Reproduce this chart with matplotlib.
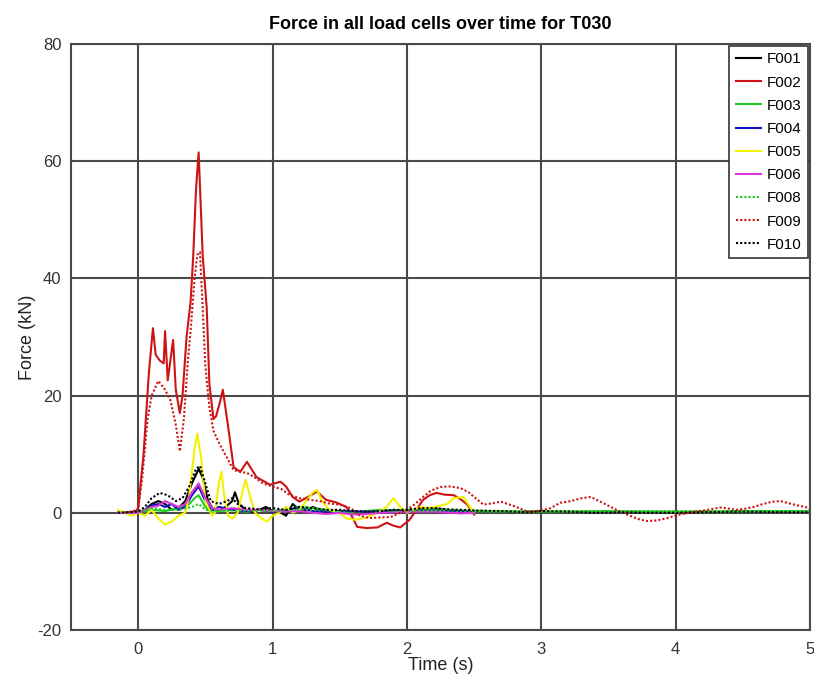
import matplotlib
matplotlib.use("Agg")
import matplotlib.pyplot as plt
import numpy as np

plt.rcParams['font.family'] = ['Liberation Sans', 'DejaVu Sans']
plt.rcParams['axes.unicode_minus'] = False

# ---- data: (time s, force kN) ----
F001 = [(-0.15,0),(0,0),(0.05,0.5),(0.1,1.5),(0.15,2),(0.2,1.5),(0.25,0.5),(0.3,0.8),(0.35,2),(0.4,5),
        (0.45,7.5),(0.48,6),(0.52,2),(0.56,0.5),(0.6,0.3),(0.65,1),(0.7,2),(0.72,3.5),(0.75,1.5),(0.8,0.5),
        (0.85,0.2),(0.9,0.5),(0.95,1),(1.0,0.3),(1.05,0.2),(1.1,-0.5),(1.15,1.5),(1.2,0.5),(1.25,0.3),(1.3,1),
        (1.35,0.5),(1.4,0),(1.5,0.3),(1.6,0.2),(1.7,0),(1.8,0.3),(1.9,0.5),(2.0,0.2),(2.1,0.6),(2.2,0.8),
        (2.3,0.5),(2.4,0.3),(2.5,0.2)]
F002 = [(-0.1,0),(-0.02,0.2),(0.0,0.8),(0.04,10),(0.08,24),(0.11,31.5),(0.13,27),(0.16,26),(0.19,25.5),(0.2,31),
        (0.22,22.6),(0.26,29.5),(0.28,21),(0.31,17),(0.33,20),(0.36,30),(0.39,36),(0.41,44),(0.43,55),(0.45,61.5),
        (0.48,44),(0.51,35),(0.53,22),(0.56,16),(0.58,16.5),(0.61,19),(0.63,21),(0.67,14.6),(0.71,7.8),(0.76,7),
        (0.81,8.7),(0.88,6.1),(0.98,4.8),(1.06,5.3),(1.1,4.5),(1.15,2.7),(1.2,1.9),(1.27,2.8),(1.33,3.6),(1.4,2.2),
        (1.47,1.8),(1.55,1.0),(1.6,-1.0),(1.63,-2.4),(1.7,-2.6),(1.78,-2.5),(1.85,-1.7),(1.9,-2.2),(1.95,-2.5),(2.02,-1.2),
        (2.07,0.5),(2.12,2.2),(2.17,3.0),(2.22,3.4),(2.28,3.1),(2.35,3.0),(2.4,2.3),(2.45,1.4),(2.5,-0.3)]
F003 = [(-0.15,0),(0,0),(0.1,0.5),(0.2,0.3),(0.3,0.8),(0.38,1.5),(0.42,2.5),(0.45,3),(0.5,1),(0.55,0),
        (0.6,0.3),(0.7,0.5),(0.8,0.2),(0.9,0.5),(1.0,0.3),(1.1,0.5),(1.2,1),(1.3,0.8),(1.4,0.5),(1.5,0.3),
        (1.6,0),(1.7,0.3),(1.8,0.5),(1.9,0.4),(2.0,0.5),(2.2,0.6),(2.4,0.4),(2.6,0.3),(3.0,0.2),(3.5,0.3),
        (4.0,0.2),(4.5,0.3),(5.0,0.3)]
F004 = [(-0.15,0),(0,0),(0.05,0.5),(0.1,1.2),(0.15,1.5),(0.2,1),(0.25,1.5),(0.3,0.5),(0.35,1),(0.4,3),
        (0.45,4.5),(0.5,2),(0.55,0.5),(0.6,1),(0.7,0.5),(0.8,0.3),(0.9,0.5),(1.0,0.2),(1.1,0.5),(1.2,0.8),
        (1.3,0.3),(1.4,0.2),(1.5,0.3),(1.7,0.2),(1.9,0.3),(2.1,0.4),(2.3,0.3),(2.5,0.2)]
F005 = [(-0.15,0.5),(-0.05,-0.5),(0,0),(0.05,-0.5),(0.1,0.5),(0.15,-1),(0.2,-2),(0.25,-1.5),(0.3,-0.5),(0.35,0),
        (0.38,3),(0.42,11),(0.44,13.5),(0.47,9),(0.5,2),(0.55,-0.5),(0.57,0),(0.6,5),(0.62,7),(0.64,3),
        (0.67,-0.5),(0.7,-1),(0.74,0),(0.78,4),(0.8,5.6),(0.83,3),(0.87,0),(0.92,-1),(0.96,-1.5),(1.0,-0.5),
        (1.05,0),(1.1,1),(1.15,0),(1.2,0.5),(1.25,2),(1.3,3.5),(1.33,3.9),(1.37,2),(1.42,0.5),(1.5,0),
        (1.55,-1),(1.62,-1.2),(1.7,-0.8),(1.78,0),(1.85,1),(1.9,2.5),(1.95,1),(2.0,0),(2.05,0.5),(2.1,1),
        (2.15,0.8),(2.2,1),(2.3,1.5),(2.35,2.5),(2.42,2.7),(2.47,1),(2.5,0)]
F006 = [(-0.15,0),(0,0),(0.05,0.5),(0.1,1),(0.15,1.2),(0.2,2),(0.25,1.5),(0.3,1),(0.35,1.5),(0.4,3.5),
        (0.45,5),(0.5,2.5),(0.55,0.8),(0.6,0.5),(0.7,0.8),(0.8,0.5),(0.9,0.5),(1.0,0.3),(1.1,0.2),(1.2,0.3),
        (1.3,0),(1.4,-0.2),(1.5,0),(1.6,-0.3),(1.7,-0.2),(1.8,0),(1.9,0.1),(2.0,0.2),(2.2,0.2),(2.4,-0.1),(2.5,0)]
F008 = [(-0.15,0),(0,0.2),(0.1,0.8),(0.2,0.5),(0.3,0.5),(0.4,1),(0.45,1.5),(0.5,0.5),(0.6,0.3),(0.8,0.4),
        (1.0,0.3),(1.2,0.6),(1.4,0.4),(1.6,0.2),(1.8,0.3),(2.0,0.3),(2.3,0.4),(2.6,0.2),(3.0,0.3),(3.5,0.2),
        (4.0,0.3),(4.5,0.2),(5.0,0.3)]
F009 = [(-0.1,0),(0.0,0.5),(0.03,6),(0.07,16),(0.1,20),(0.15,22.5),(0.2,21),(0.24,19.2),(0.28,15),(0.31,10.5),
        (0.34,16),(0.37,26),(0.39,31),(0.42,40),(0.44,44),(0.46,44.5),(0.48,35),(0.5,25),(0.53,18),(0.56,14),
        (0.6,12),(0.63,10.7),(0.67,9),(0.71,7.3),(0.76,7),(0.81,6.8),(0.87,6),(0.93,5),(1.0,4.5),(1.07,4),
        (1.13,3),(1.2,2.5),(1.28,2.2),(1.35,2),(1.42,1.6),(1.5,1.4),(1.58,0.8),(1.65,-0.5),(1.72,-0.9),(1.8,-0.8),
        (1.88,-0.7),(1.95,0),(2.0,0.5),(2.06,1.5),(2.12,2.7),(2.18,3.8),(2.25,4.4),(2.32,4.5),(2.4,4.2),(2.46,3.5),
        (2.5,2.7),(2.57,1.4),(2.63,1.6),(2.7,1.9),(2.79,1.2),(2.9,0.2),(2.99,0.35),(3.07,0.8),(3.14,1.7),(3.22,2.0),
        (3.3,2.5),(3.37,2.7),(3.44,1.9),(3.5,1.2),(3.56,0.5),(3.62,-0.1),(3.68,-0.7),(3.74,-1.2),(3.79,-1.4),(3.86,-1.3),
        (3.94,-0.9),(4.03,-0.3),(4.1,0.0),(4.18,0.3),(4.26,0.6),(4.33,0.9),(4.4,0.7),(4.45,0.5),(4.52,0.7),(4.58,1.0),
        (4.65,1.5),(4.72,1.9),(4.78,2.0),(4.83,1.7),(4.9,1.3),(4.98,0.9),(5.0,0.6)]
F010 = [(-0.15,0),(0,0.2),(0.05,1),(0.1,2.5),(0.16,3.4),(0.22,3),(0.28,2),(0.33,2.5),(0.38,4.5),(0.43,7.5),
        (0.46,8),(0.5,5),(0.54,2),(0.6,1.5),(0.66,2),(0.7,2.5),(0.74,1.5),(0.8,0.8),(0.9,0.6),(1.0,0.8),
        (1.1,0.5),(1.2,1),(1.3,0.8),(1.4,0.5),(1.5,0.5),(1.6,0.3),(1.7,0.2),(1.8,0.3),(1.9,0.5),(2.0,0.5),
        (2.1,0.8),(2.2,0.8),(2.3,0.6),(2.4,0.5),(2.5,0.4),(2.7,0.3),(2.9,0.1),(3.0,0.3),(3.2,0.2),(3.4,0),
        (3.6,0.1),(3.8,0),(4.0,0),(4.2,0.1),(4.5,0.2),(4.8,0.1),(5.0,0.1)]

labels = ['F001', 'F002', 'F003', 'F004', 'F005', 'F006', 'F008', 'F009', 'F010']
series = [F001, F002, F003, F004, F005, F006, F008, F009, F010]
colors = ['#000000', '#cc1414', '#22cc22', '#1010c0', '#f2f200', '#dd33dd', '#22cc22', '#cc1414', '#000000']
styles = ['-', '-', '-', '-', '-', '-', (0, (1, 1)), (0, (1, 1)), (0, (1, 1))]

xticks = [0, 1, 2, 3, 4, 5]
yticks = [-20, 0, 20, 40, 60, 80]

fig = plt.figure(figsize=(8.14, 6.8), dpi=100)
ax = fig.add_axes([71/814, 50/680, (810-71)/814, (630-44)/680])

for data, lab, c, ls in zip(series, labels, colors, styles):
    arr = np.array(data)
    ax.plot(arr[:, 0], arr[:, 1], color=c, linestyle=ls, linewidth=1.5, label=lab)

ax.set_xlim(-0.5, 5)
ax.set_ylim(-20, 80)
ax.set_xticks(xticks)
ax.set_yticks(yticks)
ax.tick_params(length=0, labelsize=12, colors='#333333')
ax.tick_params(axis='y', pad=7)
ax.tick_params(axis='x', pad=9)
ax.grid(True, color='#4a4a4a', linewidth=1.5)
ax.set_axisbelow(True)
for s in ax.spines.values():
    s.set_color('#4a4a4a')
    s.set_linewidth(1.5)

ax.set_title('Force in all load cells over time for T030', fontsize=13, fontweight='bold', pad=11)
ax.set_xlabel('Time (s)', fontsize=13, labelpad=0, color='#222222')
ax.set_ylabel('Force (kN)', fontsize=13, labelpad=1, color='#222222')

leg = ax.legend(loc='upper right', fontsize=11, handlelength=1.65, handletextpad=0.4,
                labelspacing=0.6, borderaxespad=0.15, fancybox=False, framealpha=1,
                edgecolor='#333333', borderpad=0.4)
leg.get_frame().set_linewidth(1.2)

fig.savefig('out.png', dpi=100, facecolor='white')
